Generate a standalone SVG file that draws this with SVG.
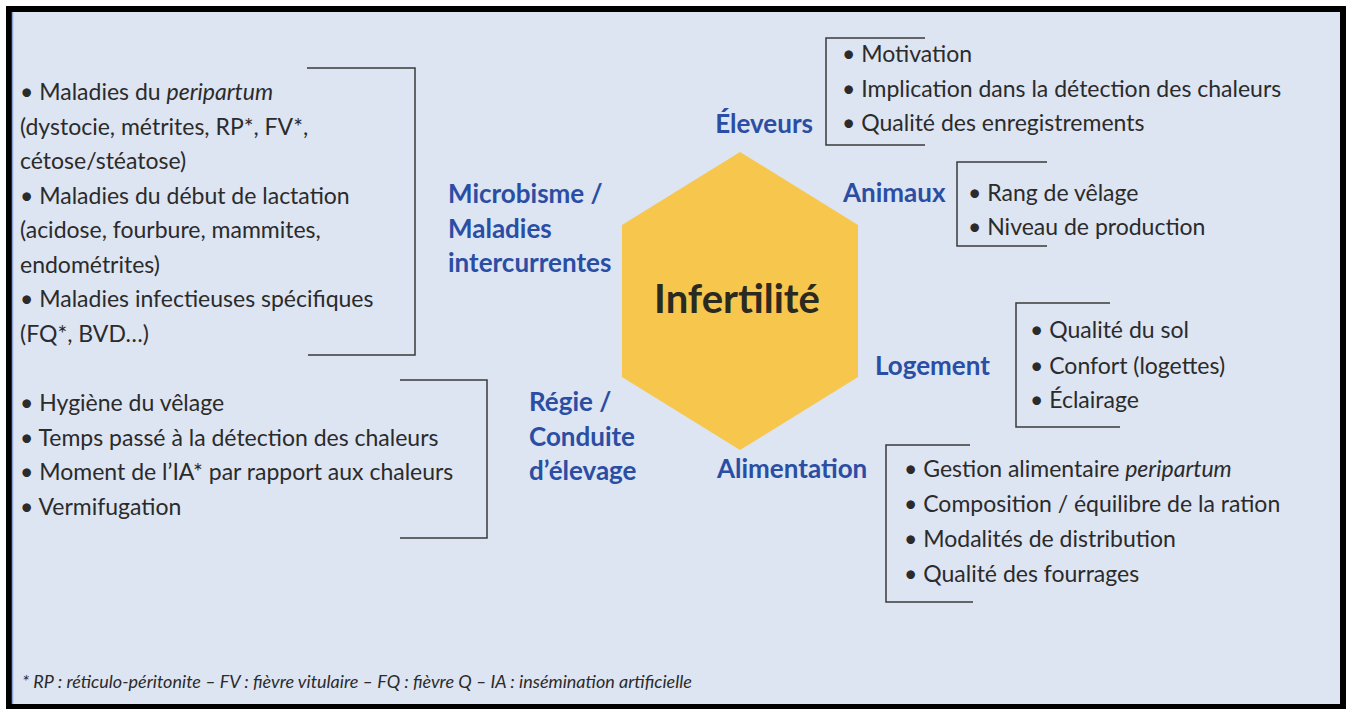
<svg xmlns="http://www.w3.org/2000/svg" width="1350" height="709" viewBox="0 0 1350 709">
<style>
.t{font-family:Lato,"Open Sans","Liberation Sans",sans-serif;font-size:23px;fill:#2b2b2b}
.l{font-family:Lato,"Open Sans","Liberation Sans",sans-serif;font-size:26px;font-weight:bold;fill:#2a4ea3}
.br{fill:none;stroke:#3a3a3a;stroke-width:1.5}
.fn{font-family:Lato,"Open Sans","Liberation Sans",sans-serif;font-size:18px;font-style:italic;fill:#2b2b2b}
</style>
<rect x="0" y="0" width="1350" height="709" fill="#ffffff"/>
<rect x="6" y="6" width="1340" height="703" fill="#000"/>
<rect x="12" y="12" width="1328" height="692" fill="#dde4f2"/>
<line x1="12.5" y1="12" x2="12.5" y2="704" stroke="#8fa3d6" stroke-width="1.5"/>
<g id="center">
<polygon points="740,152 858,225 858,377 740,450 622,377 622,225" fill="#f6c64d"/>
<text x="737" y="313" text-anchor="middle" style="font-family:Lato,'Liberation Sans',sans-serif;font-size:40px;font-weight:bold;fill:#2a2a20">Infertilité</text>
</g>
<g id="brackets">
<polyline class="br" points="307,68 415,68 415,355 308,355"/>
<polyline class="br" points="400,380 487,380 487,538 400,538"/>
<polyline class="br" points="925,38 826,38 826,145 925,145"/>
<polyline class="br" points="1047,162 957,162 957,246 1047,246"/>
<polyline class="br" points="1110,303 1016,303 1016,427 1120,427"/>
<polyline class="br" points="970,445 886,445 886,602 973,602"/>
</g>
<g id="microbisme">
<text class="l" x="448" y="203">Microbisme /</text>
<text class="l" x="448" y="238">Maladies</text>
<text class="l" x="448" y="272">intercurrentes</text>
<text class="t" x="20" y="100">• Maladies du <tspan font-style="italic">peripartum</tspan></text>
<text class="t" x="20" y="135">(dystocie, métrites, RP*, FV*,</text>
<text class="t" x="20" y="169">cétose/stéatose)</text>
<text class="t" x="20" y="204">• Maladies du début de lactation</text>
<text class="t" x="20" y="238">(acidose, fourbure, mammites,</text>
<text class="t" x="20" y="273">endométrites)</text>
<text class="t" x="20" y="307">• Maladies infectieuses spécifiques</text>
<text class="t" x="20" y="342">(FQ*, BVD…)</text>
</g>
<g id="regie">
<text class="l" x="529" y="411">Régie /</text>
<text class="l" x="529" y="446">Conduite</text>
<text class="l" x="529" y="480">d’élevage</text>
<text class="t" x="20" y="411">• Hygiène du vêlage</text>
<text class="t" x="20" y="446">• Temps passé à la détection des chaleurs</text>
<text class="t" x="20" y="480">• Moment de l’IA* par rapport aux chaleurs</text>
<text class="t" x="20" y="515">• Vermifugation</text>
</g>
<g id="eleveurs">
<text class="l" x="813" y="133" text-anchor="end">Éleveurs</text>
<text class="t" x="842" y="62">• Motivation</text>
<text class="t" x="842" y="97">• Implication dans la détection des chaleurs</text>
<text class="t" x="842" y="131">• Qualité des enregistrements</text>
</g>
<g id="animaux">
<text class="l" x="843" y="202">Animaux</text>
<text class="t" x="968" y="201">• Rang de vêlage</text>
<text class="t" x="968" y="235">• Niveau de production</text>
</g>
<g id="logement">
<text class="l" x="875" y="375">Logement</text>
<text class="t" x="1030" y="338">• Qualité du sol</text>
<text class="t" x="1030" y="374">• Confort (logettes)</text>
<text class="t" x="1030" y="408">• Éclairage</text>
</g>
<g id="alimentation">
<text class="l" x="717" y="478">Alimentation</text>
<text class="t" x="904" y="477">• Gestion alimentaire <tspan font-style="italic">peripartum</tspan></text>
<text class="t" x="904" y="512">• Composition / équilibre de la ration</text>
<text class="t" x="904" y="547">• Modalités de distribution</text>
<text class="t" x="904" y="582">• Qualité des fourrages</text>
</g>
<g id="footnote">
<text class="fn" x="22" y="688">* RP : réticulo-péritonite – FV : fièvre vitulaire – FQ : fièvre Q – IA : insémination artificielle</text>
</g>
</svg>
